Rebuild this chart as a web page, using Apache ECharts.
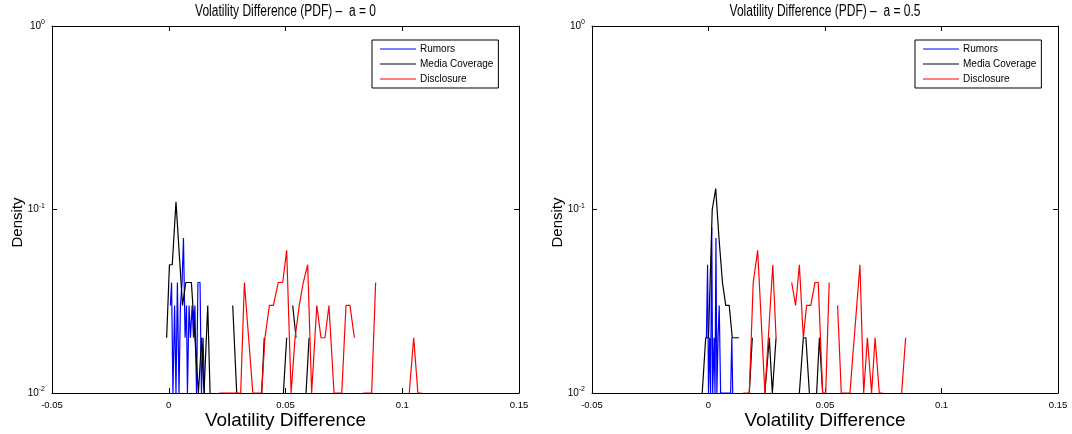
<!DOCTYPE html>
<html>
<head>
<meta charset="utf-8">
<script src="https://cdn.jsdelivr.net/npm/echarts@6/dist/echarts.min.js"></script>
<style>
  html, body { margin: 0; padding: 0; background: #fff; }
  #chart { width: 1072px; height: 434px; }
</style>
</head>
<body>
<div id="chart"></div>
<script>
// ---------- data (null = empty bin -> gap on the log axis) ----------
const seriesNames = ['Rumors', 'Media Coverage', 'Disclosure'];
const panelTitles = ['Volatility Difference (PDF) \u2013  a = 0', 'Volatility Difference (PDF) \u2013  a = 0.5'];
const xTicks = [-0.05, 0, 0.05, 0.1, 0.15];
const yTicks = [0.01, 0.1, 1];

// Panel a = 0
const leftRumorsX = [0.0007, 0.0012, 0.0018, 0.0025, 0.0031, 0.0037, 0.0044, 0.0050, 0.0057, 0.0063, 0.0070, 0.0076, 0.0080, 0.0087, 0.0093, 0.0100, 0.0106, 0.0112, 0.0119, 0.0125, 0.0134, 0.0140, 0.0147, 0.0153];
const leftRumorsY = [0.03, 0.04, 0.01, 0.03, 0.01, 0.04, 0.01, 0.03, 0.04, 0.07, 0.02, 0.03, 0.01, 0.03, 0.02, 0.03, 0.02, 0.03, 0.01, 0.04, 0.04, 0.01, 0.02, 0.01];

const leftMediaX = [-0.0009, 0.0003, 0.0015, 0.0031, 0.0059, 0.0073, 0.0097, 0.0127, 0.0141, 0.0151, 0.0167, 0.0177, 0.0210, 0.0248, 0.0260, 0.0274, 0.0291, 0.0350, 0.0398, 0.0409, 0.0440, 0.0467, 0.0480, 0.0491, 0.0505, 0.0518, 0.0531, 0.0545, 0.0565, 0.0588, 0.0601];
const leftMediaY = [0.02, 0.05, 0.05, 0.11, 0.03, 0.04, 0.04, 0.01, 0.02, 0.01, 0.03, 0.01, null, 0.03, null, 0.03, 0.01, null, 0.01, 0.02, null, 0.02, null, 0.01, 0.02, null, 0.03, 0.02, null, 0.01, 0.02];

const leftDisclosureX = [0.0216, 0.0308, 0.0324, 0.0360, 0.0398, 0.0412, 0.0431, 0.0448, 0.0469, 0.0488, 0.0505, 0.0524, 0.0541, 0.0559, 0.0576, 0.0595, 0.0612, 0.0634, 0.0652, 0.0669, 0.0686, 0.0708, 0.0741, 0.0759, 0.0776, 0.0795, 0.0815, 0.0833, 0.0869, 0.0886, 0.0930, 0.0976, 0.1000, 0.1030, 0.1049, 0.1067, 0.1083];
const leftDisclosureY = [0.01, 0.01, 0.04, 0.01, 0.01, 0.02, 0.03, 0.03, 0.04, 0.04, 0.06, 0.01, 0.02, 0.03, 0.04, 0.05, 0.01, 0.03, 0.02, 0.02, 0.03, 0.01, 0.01, 0.03, 0.03, 0.02, null, 0.01, 0.01, 0.04, null, 0.03, null, 0.01, 0.02, 0.01, 0.01];

// Panel a = 0.5
const rightRumorsX = [-0.0009, -0.0004, 0.0000, 0.0005, 0.0009, 0.0014, 0.0018, 0.0024, 0.0028, 0.0032, 0.0036, 0.0041, 0.0046, 0.0052, 0.0095, 0.0100, 0.0104];
const rightRumorsY = [0.02, 0.05, 0.01, 0.02, 0.01, 0.08, 0.01, 0.02, 0.01, 0.07, 0.01, 0.02, 0.03, 0.01, 0.01, 0.02, 0.01];

const rightMediaX = [-0.0027, -0.0012, 0.0000, 0.0016, 0.0031, 0.0045, 0.0060, 0.0074, 0.0089, 0.0102, 0.0131, 0.0150, 0.0175, 0.0188, 0.0210, 0.0242, 0.0261, 0.0274, 0.0290, 0.0340, 0.0390, 0.0407, 0.0418, 0.0433, 0.0450, 0.0464, 0.0476, 0.0490];
const rightMediaY = [0.01, 0.02, 0.02, 0.10, 0.13, 0.07, 0.04, 0.03, 0.03, 0.02, 0.02, null, 0.01, 0.02, null, 0.01, 0.02, 0.01, 0.02, null, 0.01, 0.02, 0.02, 0.01, null, 0.01, 0.02, 0.01];

const rightDisclosureX = [0.0149, 0.0175, 0.0192, 0.0211, 0.0242, 0.0276, 0.0290, 0.0308, 0.0325, 0.0340, 0.0357, 0.0374, 0.0390, 0.0407, 0.0421, 0.0439, 0.0457, 0.0471, 0.0490, 0.0503, 0.0518, 0.0535, 0.0554, 0.0570, 0.0607, 0.0650, 0.0666, 0.0682, 0.0687, 0.0700, 0.0715, 0.0733, 0.0748, 0.0790, 0.0829, 0.0846];
const rightDisclosureY = [0.01, 0.01, 0.04, 0.06, 0.01, 0.05, 0.02, null, 0.06, null, 0.04, 0.03, 0.05, 0.02, 0.03, 0.03, 0.04, 0.04, 0.01, 0.01, 0.04, null, 0.03, 0.01, 0.01, 0.05, 0.01, 0.02, 0.02, 0.01, 0.02, 0.01, 0.01, null, 0.01, 0.02];

const colors = ['#0000ff', '#000000', '#ff0000'];

// ---------- helpers ----------
function pairs(xs, ys) {
  return xs.map((x, i) => [x, ys[i] == null ? '-' : ys[i]]);
}
const font = "'Liberation Sans', Arial, Helvetica, sans-serif";

const grids = [
  { left: 52, top: 26, width: 467, height: 367, outerBoundsMode: 'none', containLabel: false },
  { left: 592, top: 26, width: 466, height: 367, outerBoundsMode: 'none', containLabel: false }
];

const xAxes = [], yAxes = [];
grids.forEach((g, i) => {
  const common = {
    type: 'value', gridIndex: i, min: -0.05, max: 0.15, interval: 0.05,
    axisLine: { show: true, onZero: false, lineStyle: { color: '#000', width: 1 } },
    axisTick: { show: true, inside: true, length: 5, lineStyle: { color: '#000' } },
    splitLine: { show: false }
  };
  xAxes.push(Object.assign({}, common, {
    position: 'bottom',
    name: 'Volatility Difference', nameLocation: 'middle', nameGap: 18, nameMoveOverlap: false,
    nameTextStyle: { fontFamily: font, fontSize: 19, color: '#000' },
    axisLabel: { show: true, fontFamily: font, fontSize: 9.5, color: '#000', margin: 7,
      formatter: v => String(+v.toFixed(2)) }
  }));
  xAxes.push(Object.assign({}, common, { position: 'top', axisLabel: { show: false } }));
  const ycommon = {
    type: 'log', logBase: 10, gridIndex: i, min: 0.01, max: 1,
    axisLine: { show: true, onZero: false, lineStyle: { color: '#000', width: 1 } },
    axisTick: { show: true, inside: true, length: 5, lineStyle: { color: '#000' } },
    splitLine: { show: false }
  };
  yAxes.push(Object.assign({}, ycommon, {
    position: 'left',
    name: 'Density', nameLocation: 'middle', nameGap: 27, nameRotate: 90, nameMoveOverlap: false,
    nameTextStyle: { fontFamily: font, fontSize: 15, color: '#000', padding: [0, 26, 0, 0] },
    axisLabel: { show: true, margin: 7, color: '#000',
      formatter: v => '{b|10}{s|' + Math.round(Math.log10(v)) + '}',
      rich: {
        b: { fontFamily: font, fontSize: 10, color: '#000' },
        s: { fontFamily: font, fontSize: 7, color: '#000', padding: [0, 0, 7, 0] }
      } }
  }));
  yAxes.push(Object.assign({}, ycommon, { position: 'right', axisLabel: { show: false } }));
});

const panelData = [
  [pairs(leftRumorsX, leftRumorsY), pairs(leftMediaX, leftMediaY), pairs(leftDisclosureX, leftDisclosureY)],
  [pairs(rightRumorsX, rightRumorsY), pairs(rightMediaX, rightMediaY), pairs(rightDisclosureX, rightDisclosureY)]
];

const series = [];
panelData.forEach((arr, p) => {
  arr.forEach((d, s) => {
    series.push({
      type: 'line', name: seriesNames[s], data: d,
      xAxisIndex: p * 2, yAxisIndex: p * 2,
      showSymbol: false, symbol: 'none', connectNulls: false,
      lineStyle: { color: colors[s], width: 1.2 },
      itemStyle: { color: colors[s] },
      z: 2 + s, animation: false
    });
  });
});

const legendCommon = {
  data: seriesNames, orient: 'vertical', top: 40,
  icon: 'rect', itemWidth: 36, itemHeight: 1.2, itemGap: 5,
  padding: [4, 5, 4, 8],
  backgroundColor: '#fff', borderColor: '#000', borderWidth: 1, borderRadius: 0,
  textStyle: { fontFamily: font, fontSize: 10, color: '#000', padding: [0, 0, 0, -1] },
  selectedMode: false
};

const titleCenters = [285.5, 825];

const option = {
  animation: false,
  backgroundColor: '#fff',
  graphic: panelTitles.map((t, i) => ({
    type: 'text', x: titleCenters[i], y: 4, scaleX: 0.75,
    style: { text: t, fontFamily: font, fontSize: 16, fill: '#000', align: 'center', verticalAlign: 'top' }
  })),
  legend: [
    Object.assign({}, legendCommon, { left: 372 }),
    Object.assign({}, legendCommon, { left: 915 })
  ],
  grid: grids,
  xAxis: xAxes,
  yAxis: yAxes,
  series: series
};

const chart = echarts.init(document.getElementById('chart'));
chart.setOption(option);
</script>
</body>
</html>
